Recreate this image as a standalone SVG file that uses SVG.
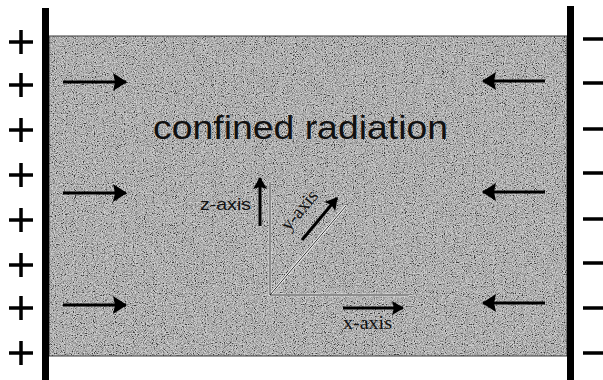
<svg xmlns="http://www.w3.org/2000/svg" width="603" height="380" viewBox="0 0 603 380">
<style>
.plate{fill:#000}
.sign{stroke:#000;stroke-width:3.5;fill:none}
.flow{stroke:#000;stroke-width:3;fill:none}
.axisw{stroke:#f4f4f4;stroke-width:2.6;fill:none}
.axisb{stroke:#111;stroke-width:0.9;fill:none}
.title{font-family:"Liberation Sans",Arial,sans-serif;font-size:34px;fill:#111}
.lbl-sans{font-family:"Liberation Sans",Arial,sans-serif;font-size:17px;fill:#111}
.lbl-serif{font-family:"Liberation Serif","Times New Roman",serif;font-size:19px;fill:#111}
</style>
<defs>
<filter id="noise" x="0" y="0" width="100%" height="100%">
<feTurbulence type="fractalNoise" baseFrequency="0.9" numOctaves="2" seed="7" result="t"/>
<feColorMatrix in="t" type="matrix" values="0.33 0.33 0.33 0 0 0.33 0.33 0.33 0 0 0.33 0.33 0.33 0 0 0 0 0 0 1" result="g"/>
<feComponentTransfer in="g">
<feFuncR type="linear" slope="4" intercept="-1.45"/>
<feFuncG type="linear" slope="4" intercept="-1.45"/>
<feFuncB type="linear" slope="4" intercept="-1.45"/>
</feComponentTransfer>
</filter>
<marker id="head" markerUnits="userSpaceOnUse" viewBox="0 0 14 18" refX="13" refY="9" markerWidth="14" markerHeight="18" orient="auto">
<path d="M0,0 L14,9 L0,18 L2,9 z" fill="#000"/>
</marker>
<marker id="headS" markerUnits="userSpaceOnUse" viewBox="0 0 12 14" refX="11" refY="7" markerWidth="12" markerHeight="14" orient="auto">
<path d="M0,0 L12,7 L0,14 L2,7 z" fill="#000"/>
</marker>
</defs>

<g id="radiation-region">
<rect x="49" y="36" width="518" height="320" fill="#949494"/>
<rect x="49" y="36" width="518" height="320" fill="#949494" filter="url(#noise)" opacity="0.6"/>
<rect x="49" y="36" width="518" height="320" fill="none" stroke="#3a3a3a" stroke-width="1"/>
</g>

<g id="positive-plate">
<rect class="plate" x="42" y="8" width="7" height="372"/>
<path class="sign" d="M9,42h24M21,30v24 M9,85h24M21,73v24 M9,130h24M21,118v24 M9,175h24M21,163v24 M9,220h24M21,208v24 M9,265h24M21,253v24 M9,308h24M21,296v24 M9,353h24M21,341v24"/>
</g>

<g id="negative-plate">
<rect class="plate" x="567" y="6" width="7" height="374"/>
<path class="sign" d="M583,39h20 M583,83h20 M583,129h20 M583,173h20 M583,219h20 M583,263h20 M583,308h20 M583,353h20"/>
</g>

<g id="title">
<text class="title" x="153" y="139" textLength="295" lengthAdjust="spacingAndGlyphs">confined radiation</text>
</g>

<g id="axes">
<path class="axisw" d="M270,182 V295 H408 M270,295 L346,206"/>
<path class="axisb" d="M270,182 V295 H408 M270,295 L346,206"/>
<text class="lbl-sans" x="251" y="210" text-anchor="end" textLength="51" lengthAdjust="spacingAndGlyphs">z-axis</text>
<text class="lbl-serif" x="343" y="329" textLength="49" lengthAdjust="spacingAndGlyphs">x-axis</text>
<text class="lbl-serif" transform="translate(304,214) rotate(-50)" text-anchor="middle" x="0" y="0" font-size="20">y-axis</text>
</g>

<g id="connectors">
<path class="flow" marker-end="url(#head)" d="M63,82 H126"/>
<path class="flow" marker-end="url(#head)" d="M63,193 H126"/>
<path class="flow" marker-end="url(#head)" d="M63,305 H126"/>
<path class="flow" marker-end="url(#head)" d="M545,81 H483"/>
<path class="flow" marker-end="url(#head)" d="M545,192 H483"/>
<path class="flow" marker-end="url(#head)" d="M545,303 H483"/>
<path class="flow" marker-end="url(#headS)" d="M260,226 V178"/>
<path class="flow" marker-end="url(#headS)" d="M343,308 H403"/>
<path class="flow" marker-end="url(#headS)" d="M302,240 L337,198"/>
</g>
</svg>
